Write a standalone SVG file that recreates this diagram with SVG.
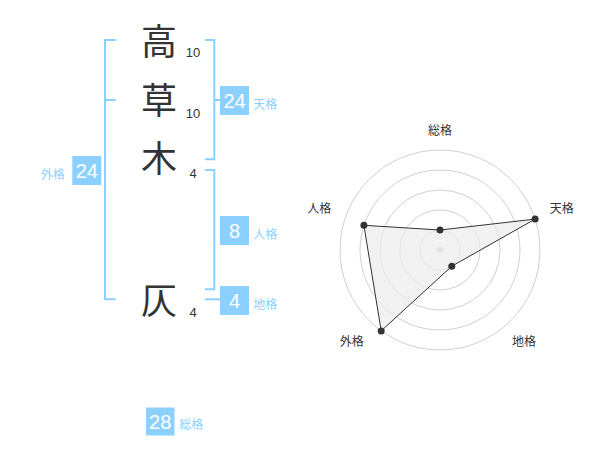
<svg xmlns="http://www.w3.org/2000/svg" width="600" height="470" viewBox="0 0 600 470">
<style>
.br{fill:none;stroke:#8cd0ff;stroke-width:2}
.box{fill:#8cd0ff}
.bt{font-family:"Liberation Sans",Arial,sans-serif;font-size:20px;fill:#fff;text-anchor:middle}
.lb{font-family:"Noto Sans CJK JP",sans-serif;font-size:12px;fill:#8cd0ff}
.kj{font-family:"Noto Sans CJK JP",sans-serif;font-size:36px;fill:#333;text-anchor:middle}
.num{font-family:"Liberation Sans",Arial,sans-serif;font-size:13px;fill:#333;text-anchor:middle}
.ring{fill:none;stroke:#d0d0d0;stroke-width:1}
.rl{font-family:"Noto Sans CJK JP",sans-serif;font-size:12px;fill:#333;text-anchor:middle}
.pt{fill:#333}
</style>
<rect width="600" height="470" fill="#fff"/>
<g id="connectors">
<path class="br" d="M115.7,40 H105 V299.3 H115.7 M105,100 H115.7"/>
<path class="br" d="M205,40 H214.3 V159.3 H205 M214.3,100 H220"/>
<path class="br" d="M205,170 H214.3 V289.3 H205"/>
<path class="br" d="M205,299.3 H220"/>
</g>
<g id="chars">
<text class="kj" x="159" y="54.5">高</text>
<text class="num" x="193" y="57">10</text>
<text class="kj" x="159" y="113.5">草</text>
<text class="num" x="193" y="118">10</text>
<text class="kj" x="159" y="172">木</text>
<text class="num" x="193" y="178">4</text>
<text class="kj" x="159" y="313.5">仄</text>
<text class="num" x="193" y="317">4</text>
</g>
<g id="tenkaku">
<rect class="box" x="220" y="86" width="29" height="29"/>
<text class="bt" x="234.5" y="107.5">24</text>
<text class="lb" x="253.3" y="108.5">天格</text>
</g>
<g id="jinkaku">
<rect class="box" x="220" y="216" width="29" height="29"/>
<text class="bt" x="234.5" y="237.5">8</text>
<text class="lb" x="253.3" y="238.5">人格</text>
</g>
<g id="chikaku">
<rect class="box" x="220" y="286" width="29" height="29"/>
<text class="bt" x="234.5" y="307.5">4</text>
<text class="lb" x="253.3" y="308.5">地格</text>
</g>
<g id="gaikaku">
<rect class="box" x="72.3" y="156" width="29" height="29"/>
<text class="bt" x="86.8" y="177.5">24</text>
<text class="lb" x="40.7" y="178.5">外格</text>
</g>
<g id="soukaku">
<rect class="box" x="146" y="407.5" width="28.5" height="28"/>
<text class="bt" x="160.2" y="428.5">28</text>
<text class="lb" x="179.3" y="428.5">総格</text>
</g>
<g id="radar">
<circle class="ring" cx="440" cy="250" r="20"/>
<circle class="ring" cx="440" cy="250" r="40"/>
<circle class="ring" cx="440" cy="250" r="60"/>
<circle class="ring" cx="440" cy="250" r="80"/>
<circle class="ring" cx="440" cy="250" r="100"/>
<circle cx="440" cy="250" r="3" fill="#c8c8c8"/>
<polygon points="440,230 535.1,219.1 451.8,266.2 381.2,330.9 363.9,225.3" fill="#ececec" fill-opacity="0.75" stroke="#333" stroke-width="1"/>
<circle class="pt" cx="440" cy="230" r="3.5"/>
<circle class="pt" cx="535.1" cy="219.1" r="3.5"/>
<circle class="pt" cx="451.8" cy="266.2" r="3.5"/>
<circle class="pt" cx="381.2" cy="330.9" r="3.5"/>
<circle class="pt" cx="363.9" cy="225.3" r="3.5"/>
<text class="rl" x="440" y="134.5">総格</text>
<text class="rl" x="561.7" y="212.8">天格</text>
<text class="rl" x="319.3" y="212.8">人格</text>
<text class="rl" x="351.7" y="346.2">外格</text>
<text class="rl" x="524" y="346.2">地格</text>
</g>
</svg>
